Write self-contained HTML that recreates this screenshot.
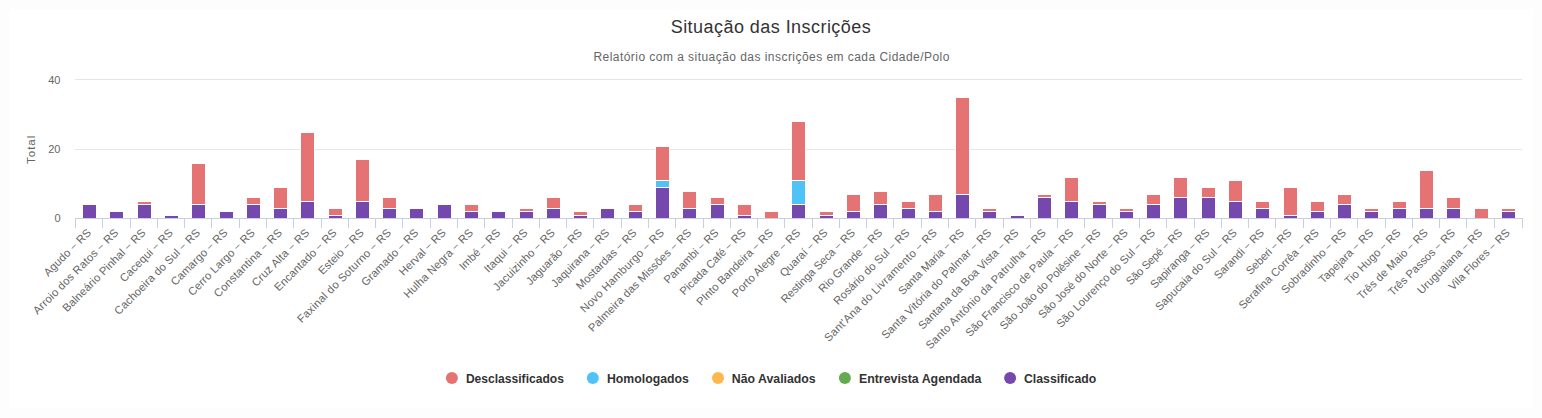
<!DOCTYPE html>
<html><head><meta charset="utf-8"><style>html,body{margin:0;padding:0;width:1542px;height:418px;overflow:hidden;background:#fff}</style></head>
<body>
<svg width="1542" height="418" viewBox="0 0 1542 418" style="position:absolute;left:0;top:0;font-family:'Liberation Sans', sans-serif">
<rect x="0" y="0" width="1542" height="418" fill="#fdfdfd"/>
<rect x="9" y="9" width="1524" height="399" fill="#ffffff"/>
<text x="670.7" y="32.8" textLength="200" lengthAdjust="spacing" font-size="18" fill="#333333">Situação das Inscrições</text>
<text x="593.4" y="61.3" textLength="356" lengthAdjust="spacing" font-size="12" fill="#666666">Relatório com a situação das inscrições em cada Cidade/Polo</text>
<line x1="75" y1="218.5" x2="1522" y2="218.5" stroke="#e6e6e6" stroke-width="1"/>
<text x="60.5" y="222.0" text-anchor="end" font-size="11" fill="#666666">0</text>
<line x1="75" y1="149.5" x2="1522" y2="149.5" stroke="#e6e6e6" stroke-width="1"/>
<text x="60.5" y="153.0" text-anchor="end" font-size="11" fill="#666666">20</text>
<line x1="75" y1="79.5" x2="1522" y2="79.5" stroke="#e6e6e6" stroke-width="1"/>
<text x="60.5" y="84.0" text-anchor="end" font-size="11" fill="#666666">40</text>
<text transform="translate(35,164) rotate(-90)" textLength="28.3" lengthAdjust="spacing" font-size="11.5" fill="#666666">Total</text>
<rect x="82" y="204" width="15" height="15" fill="#ffffff"/>
<rect x="83" y="205" width="13" height="13" fill="#7448ad"/>
<rect x="109" y="211" width="15" height="8" fill="#ffffff"/>
<rect x="110" y="212" width="13" height="6" fill="#7448ad"/>
<rect x="137" y="204" width="15" height="15" fill="#ffffff"/>
<rect x="138" y="205" width="13" height="13" fill="#7448ad"/>
<rect x="137" y="201" width="15" height="4" fill="#ffffff"/>
<rect x="138" y="202" width="13" height="2" fill="#e57373"/>
<rect x="164" y="215" width="15" height="4" fill="#ffffff"/>
<rect x="165" y="216" width="13" height="2" fill="#7448ad"/>
<rect x="191" y="204" width="15" height="15" fill="#ffffff"/>
<rect x="192" y="205" width="13" height="13" fill="#7448ad"/>
<rect x="191" y="163" width="15" height="42" fill="#ffffff"/>
<rect x="192" y="164" width="13" height="40" fill="#e57373"/>
<rect x="219" y="211" width="15" height="8" fill="#ffffff"/>
<rect x="220" y="212" width="13" height="6" fill="#7448ad"/>
<rect x="246" y="204" width="15" height="15" fill="#ffffff"/>
<rect x="247" y="205" width="13" height="13" fill="#7448ad"/>
<rect x="246" y="197" width="15" height="8" fill="#ffffff"/>
<rect x="247" y="198" width="13" height="6" fill="#e57373"/>
<rect x="273" y="208" width="15" height="11" fill="#ffffff"/>
<rect x="274" y="209" width="13" height="9" fill="#7448ad"/>
<rect x="273" y="187" width="15" height="22" fill="#ffffff"/>
<rect x="274" y="188" width="13" height="20" fill="#e57373"/>
<rect x="300" y="201" width="15" height="18" fill="#ffffff"/>
<rect x="301" y="202" width="13" height="16" fill="#7448ad"/>
<rect x="300" y="132" width="15" height="70" fill="#ffffff"/>
<rect x="301" y="133" width="13" height="68" fill="#e57373"/>
<rect x="328" y="215" width="15" height="4" fill="#ffffff"/>
<rect x="329" y="216" width="13" height="2" fill="#7448ad"/>
<rect x="328" y="208" width="15" height="8" fill="#ffffff"/>
<rect x="329" y="209" width="13" height="6" fill="#e57373"/>
<rect x="355" y="201" width="15" height="18" fill="#ffffff"/>
<rect x="356" y="202" width="13" height="16" fill="#7448ad"/>
<rect x="355" y="159" width="15" height="43" fill="#ffffff"/>
<rect x="356" y="160" width="13" height="41" fill="#e57373"/>
<rect x="382" y="208" width="15" height="11" fill="#ffffff"/>
<rect x="383" y="209" width="13" height="9" fill="#7448ad"/>
<rect x="382" y="197" width="15" height="12" fill="#ffffff"/>
<rect x="383" y="198" width="13" height="10" fill="#e57373"/>
<rect x="409" y="208" width="15" height="11" fill="#ffffff"/>
<rect x="410" y="209" width="13" height="9" fill="#7448ad"/>
<rect x="437" y="204" width="15" height="15" fill="#ffffff"/>
<rect x="438" y="205" width="13" height="13" fill="#7448ad"/>
<rect x="464" y="211" width="15" height="8" fill="#ffffff"/>
<rect x="465" y="212" width="13" height="6" fill="#7448ad"/>
<rect x="464" y="204" width="15" height="8" fill="#ffffff"/>
<rect x="465" y="205" width="13" height="6" fill="#e57373"/>
<rect x="491" y="211" width="15" height="8" fill="#ffffff"/>
<rect x="492" y="212" width="13" height="6" fill="#7448ad"/>
<rect x="519" y="211" width="15" height="8" fill="#ffffff"/>
<rect x="520" y="212" width="13" height="6" fill="#7448ad"/>
<rect x="519" y="208" width="15" height="4" fill="#ffffff"/>
<rect x="520" y="209" width="13" height="2" fill="#e57373"/>
<rect x="546" y="208" width="15" height="11" fill="#ffffff"/>
<rect x="547" y="209" width="13" height="9" fill="#7448ad"/>
<rect x="546" y="197" width="15" height="12" fill="#ffffff"/>
<rect x="547" y="198" width="13" height="10" fill="#e57373"/>
<rect x="573" y="215" width="15" height="4" fill="#ffffff"/>
<rect x="574" y="216" width="13" height="2" fill="#7448ad"/>
<rect x="573" y="211" width="15" height="5" fill="#ffffff"/>
<rect x="574" y="212" width="13" height="3" fill="#e57373"/>
<rect x="600" y="208" width="15" height="11" fill="#ffffff"/>
<rect x="601" y="209" width="13" height="9" fill="#7448ad"/>
<rect x="628" y="211" width="15" height="8" fill="#ffffff"/>
<rect x="629" y="212" width="13" height="6" fill="#7448ad"/>
<rect x="628" y="204" width="15" height="8" fill="#ffffff"/>
<rect x="629" y="205" width="13" height="6" fill="#e57373"/>
<rect x="655" y="187" width="15" height="32" fill="#ffffff"/>
<rect x="656" y="188" width="13" height="30" fill="#7448ad"/>
<rect x="655" y="180" width="15" height="8" fill="#ffffff"/>
<rect x="656" y="181" width="13" height="6" fill="#4fc3f7"/>
<rect x="655" y="146" width="15" height="35" fill="#ffffff"/>
<rect x="656" y="147" width="13" height="33" fill="#e57373"/>
<rect x="682" y="208" width="15" height="11" fill="#ffffff"/>
<rect x="683" y="209" width="13" height="9" fill="#7448ad"/>
<rect x="682" y="191" width="15" height="18" fill="#ffffff"/>
<rect x="683" y="192" width="13" height="16" fill="#e57373"/>
<rect x="710" y="204" width="15" height="15" fill="#ffffff"/>
<rect x="711" y="205" width="13" height="13" fill="#7448ad"/>
<rect x="710" y="197" width="15" height="8" fill="#ffffff"/>
<rect x="711" y="198" width="13" height="6" fill="#e57373"/>
<rect x="737" y="215" width="15" height="4" fill="#ffffff"/>
<rect x="738" y="216" width="13" height="2" fill="#7448ad"/>
<rect x="737" y="204" width="15" height="12" fill="#ffffff"/>
<rect x="738" y="205" width="13" height="10" fill="#e57373"/>
<rect x="764" y="211" width="15" height="8" fill="#ffffff"/>
<rect x="765" y="212" width="13" height="6" fill="#e57373"/>
<rect x="791" y="204" width="15" height="15" fill="#ffffff"/>
<rect x="792" y="205" width="13" height="13" fill="#7448ad"/>
<rect x="791" y="180" width="15" height="25" fill="#ffffff"/>
<rect x="792" y="181" width="13" height="23" fill="#4fc3f7"/>
<rect x="791" y="121" width="15" height="60" fill="#ffffff"/>
<rect x="792" y="122" width="13" height="58" fill="#e57373"/>
<rect x="819" y="215" width="15" height="4" fill="#ffffff"/>
<rect x="820" y="216" width="13" height="2" fill="#7448ad"/>
<rect x="819" y="211" width="15" height="5" fill="#ffffff"/>
<rect x="820" y="212" width="13" height="3" fill="#e57373"/>
<rect x="846" y="211" width="15" height="8" fill="#ffffff"/>
<rect x="847" y="212" width="13" height="6" fill="#7448ad"/>
<rect x="846" y="194" width="15" height="18" fill="#ffffff"/>
<rect x="847" y="195" width="13" height="16" fill="#e57373"/>
<rect x="873" y="204" width="15" height="15" fill="#ffffff"/>
<rect x="874" y="205" width="13" height="13" fill="#7448ad"/>
<rect x="873" y="191" width="15" height="14" fill="#ffffff"/>
<rect x="874" y="192" width="13" height="12" fill="#e57373"/>
<rect x="901" y="208" width="15" height="11" fill="#ffffff"/>
<rect x="902" y="209" width="13" height="9" fill="#7448ad"/>
<rect x="901" y="201" width="15" height="8" fill="#ffffff"/>
<rect x="902" y="202" width="13" height="6" fill="#e57373"/>
<rect x="928" y="211" width="15" height="8" fill="#ffffff"/>
<rect x="929" y="212" width="13" height="6" fill="#7448ad"/>
<rect x="928" y="194" width="15" height="18" fill="#ffffff"/>
<rect x="929" y="195" width="13" height="16" fill="#e57373"/>
<rect x="955" y="194" width="15" height="25" fill="#ffffff"/>
<rect x="956" y="195" width="13" height="23" fill="#7448ad"/>
<rect x="955" y="97" width="15" height="98" fill="#ffffff"/>
<rect x="956" y="98" width="13" height="96" fill="#e57373"/>
<rect x="982" y="211" width="15" height="8" fill="#ffffff"/>
<rect x="983" y="212" width="13" height="6" fill="#7448ad"/>
<rect x="982" y="208" width="15" height="4" fill="#ffffff"/>
<rect x="983" y="209" width="13" height="2" fill="#e57373"/>
<rect x="1010" y="215" width="15" height="4" fill="#ffffff"/>
<rect x="1011" y="216" width="13" height="2" fill="#7448ad"/>
<rect x="1037" y="197" width="15" height="22" fill="#ffffff"/>
<rect x="1038" y="198" width="13" height="20" fill="#7448ad"/>
<rect x="1037" y="194" width="15" height="4" fill="#ffffff"/>
<rect x="1038" y="195" width="13" height="2" fill="#e57373"/>
<rect x="1064" y="201" width="15" height="18" fill="#ffffff"/>
<rect x="1065" y="202" width="13" height="16" fill="#7448ad"/>
<rect x="1064" y="177" width="15" height="25" fill="#ffffff"/>
<rect x="1065" y="178" width="13" height="23" fill="#e57373"/>
<rect x="1092" y="204" width="15" height="15" fill="#ffffff"/>
<rect x="1093" y="205" width="13" height="13" fill="#7448ad"/>
<rect x="1092" y="201" width="15" height="4" fill="#ffffff"/>
<rect x="1093" y="202" width="13" height="2" fill="#e57373"/>
<rect x="1119" y="211" width="15" height="8" fill="#ffffff"/>
<rect x="1120" y="212" width="13" height="6" fill="#7448ad"/>
<rect x="1119" y="208" width="15" height="4" fill="#ffffff"/>
<rect x="1120" y="209" width="13" height="2" fill="#e57373"/>
<rect x="1146" y="204" width="15" height="15" fill="#ffffff"/>
<rect x="1147" y="205" width="13" height="13" fill="#7448ad"/>
<rect x="1146" y="194" width="15" height="11" fill="#ffffff"/>
<rect x="1147" y="195" width="13" height="9" fill="#e57373"/>
<rect x="1173" y="197" width="15" height="22" fill="#ffffff"/>
<rect x="1174" y="198" width="13" height="20" fill="#7448ad"/>
<rect x="1173" y="177" width="15" height="21" fill="#ffffff"/>
<rect x="1174" y="178" width="13" height="19" fill="#e57373"/>
<rect x="1201" y="197" width="15" height="22" fill="#ffffff"/>
<rect x="1202" y="198" width="13" height="20" fill="#7448ad"/>
<rect x="1201" y="187" width="15" height="11" fill="#ffffff"/>
<rect x="1202" y="188" width="13" height="9" fill="#e57373"/>
<rect x="1228" y="201" width="15" height="18" fill="#ffffff"/>
<rect x="1229" y="202" width="13" height="16" fill="#7448ad"/>
<rect x="1228" y="180" width="15" height="22" fill="#ffffff"/>
<rect x="1229" y="181" width="13" height="20" fill="#e57373"/>
<rect x="1255" y="208" width="15" height="11" fill="#ffffff"/>
<rect x="1256" y="209" width="13" height="9" fill="#7448ad"/>
<rect x="1255" y="201" width="15" height="8" fill="#ffffff"/>
<rect x="1256" y="202" width="13" height="6" fill="#e57373"/>
<rect x="1283" y="215" width="15" height="4" fill="#ffffff"/>
<rect x="1284" y="216" width="13" height="2" fill="#7448ad"/>
<rect x="1283" y="187" width="15" height="29" fill="#ffffff"/>
<rect x="1284" y="188" width="13" height="27" fill="#e57373"/>
<rect x="1310" y="211" width="15" height="8" fill="#ffffff"/>
<rect x="1311" y="212" width="13" height="6" fill="#7448ad"/>
<rect x="1310" y="201" width="15" height="11" fill="#ffffff"/>
<rect x="1311" y="202" width="13" height="9" fill="#e57373"/>
<rect x="1337" y="204" width="15" height="15" fill="#ffffff"/>
<rect x="1338" y="205" width="13" height="13" fill="#7448ad"/>
<rect x="1337" y="194" width="15" height="11" fill="#ffffff"/>
<rect x="1338" y="195" width="13" height="9" fill="#e57373"/>
<rect x="1364" y="211" width="15" height="8" fill="#ffffff"/>
<rect x="1365" y="212" width="13" height="6" fill="#7448ad"/>
<rect x="1364" y="208" width="15" height="4" fill="#ffffff"/>
<rect x="1365" y="209" width="13" height="2" fill="#e57373"/>
<rect x="1392" y="208" width="15" height="11" fill="#ffffff"/>
<rect x="1393" y="209" width="13" height="9" fill="#7448ad"/>
<rect x="1392" y="201" width="15" height="8" fill="#ffffff"/>
<rect x="1393" y="202" width="13" height="6" fill="#e57373"/>
<rect x="1419" y="208" width="15" height="11" fill="#ffffff"/>
<rect x="1420" y="209" width="13" height="9" fill="#7448ad"/>
<rect x="1419" y="170" width="15" height="39" fill="#ffffff"/>
<rect x="1420" y="171" width="13" height="37" fill="#e57373"/>
<rect x="1446" y="208" width="15" height="11" fill="#ffffff"/>
<rect x="1447" y="209" width="13" height="9" fill="#7448ad"/>
<rect x="1446" y="197" width="15" height="12" fill="#ffffff"/>
<rect x="1447" y="198" width="13" height="10" fill="#e57373"/>
<rect x="1474" y="208" width="15" height="11" fill="#ffffff"/>
<rect x="1475" y="209" width="13" height="9" fill="#e57373"/>
<rect x="1501" y="211" width="15" height="8" fill="#ffffff"/>
<rect x="1502" y="212" width="13" height="6" fill="#7448ad"/>
<rect x="1501" y="208" width="15" height="4" fill="#ffffff"/>
<rect x="1502" y="209" width="13" height="2" fill="#e57373"/>
<line x1="75" y1="218.5" x2="1523" y2="218.5" stroke="#c8cfdf" stroke-width="1"/>
<line x1="75.5" y1="218" x2="75.5" y2="228" stroke="#c8cfdf" stroke-width="1"/>
<line x1="102.5" y1="218" x2="102.5" y2="228" stroke="#c8cfdf" stroke-width="1"/>
<line x1="130.5" y1="218" x2="130.5" y2="228" stroke="#c8cfdf" stroke-width="1"/>
<line x1="157.5" y1="218" x2="157.5" y2="228" stroke="#c8cfdf" stroke-width="1"/>
<line x1="184.5" y1="218" x2="184.5" y2="228" stroke="#c8cfdf" stroke-width="1"/>
<line x1="211.5" y1="218" x2="211.5" y2="228" stroke="#c8cfdf" stroke-width="1"/>
<line x1="239.5" y1="218" x2="239.5" y2="228" stroke="#c8cfdf" stroke-width="1"/>
<line x1="266.5" y1="218" x2="266.5" y2="228" stroke="#c8cfdf" stroke-width="1"/>
<line x1="293.5" y1="218" x2="293.5" y2="228" stroke="#c8cfdf" stroke-width="1"/>
<line x1="321.5" y1="218" x2="321.5" y2="228" stroke="#c8cfdf" stroke-width="1"/>
<line x1="348.5" y1="218" x2="348.5" y2="228" stroke="#c8cfdf" stroke-width="1"/>
<line x1="375.5" y1="218" x2="375.5" y2="228" stroke="#c8cfdf" stroke-width="1"/>
<line x1="402.5" y1="218" x2="402.5" y2="228" stroke="#c8cfdf" stroke-width="1"/>
<line x1="430.5" y1="218" x2="430.5" y2="228" stroke="#c8cfdf" stroke-width="1"/>
<line x1="457.5" y1="218" x2="457.5" y2="228" stroke="#c8cfdf" stroke-width="1"/>
<line x1="484.5" y1="218" x2="484.5" y2="228" stroke="#c8cfdf" stroke-width="1"/>
<line x1="512.5" y1="218" x2="512.5" y2="228" stroke="#c8cfdf" stroke-width="1"/>
<line x1="539.5" y1="218" x2="539.5" y2="228" stroke="#c8cfdf" stroke-width="1"/>
<line x1="566.5" y1="218" x2="566.5" y2="228" stroke="#c8cfdf" stroke-width="1"/>
<line x1="593.5" y1="218" x2="593.5" y2="228" stroke="#c8cfdf" stroke-width="1"/>
<line x1="621.5" y1="218" x2="621.5" y2="228" stroke="#c8cfdf" stroke-width="1"/>
<line x1="648.5" y1="218" x2="648.5" y2="228" stroke="#c8cfdf" stroke-width="1"/>
<line x1="675.5" y1="218" x2="675.5" y2="228" stroke="#c8cfdf" stroke-width="1"/>
<line x1="703.5" y1="218" x2="703.5" y2="228" stroke="#c8cfdf" stroke-width="1"/>
<line x1="730.5" y1="218" x2="730.5" y2="228" stroke="#c8cfdf" stroke-width="1"/>
<line x1="757.5" y1="218" x2="757.5" y2="228" stroke="#c8cfdf" stroke-width="1"/>
<line x1="784.5" y1="218" x2="784.5" y2="228" stroke="#c8cfdf" stroke-width="1"/>
<line x1="812.5" y1="218" x2="812.5" y2="228" stroke="#c8cfdf" stroke-width="1"/>
<line x1="839.5" y1="218" x2="839.5" y2="228" stroke="#c8cfdf" stroke-width="1"/>
<line x1="866.5" y1="218" x2="866.5" y2="228" stroke="#c8cfdf" stroke-width="1"/>
<line x1="893.5" y1="218" x2="893.5" y2="228" stroke="#c8cfdf" stroke-width="1"/>
<line x1="921.5" y1="218" x2="921.5" y2="228" stroke="#c8cfdf" stroke-width="1"/>
<line x1="948.5" y1="218" x2="948.5" y2="228" stroke="#c8cfdf" stroke-width="1"/>
<line x1="975.5" y1="218" x2="975.5" y2="228" stroke="#c8cfdf" stroke-width="1"/>
<line x1="1003.5" y1="218" x2="1003.5" y2="228" stroke="#c8cfdf" stroke-width="1"/>
<line x1="1030.5" y1="218" x2="1030.5" y2="228" stroke="#c8cfdf" stroke-width="1"/>
<line x1="1057.5" y1="218" x2="1057.5" y2="228" stroke="#c8cfdf" stroke-width="1"/>
<line x1="1084.5" y1="218" x2="1084.5" y2="228" stroke="#c8cfdf" stroke-width="1"/>
<line x1="1112.5" y1="218" x2="1112.5" y2="228" stroke="#c8cfdf" stroke-width="1"/>
<line x1="1139.5" y1="218" x2="1139.5" y2="228" stroke="#c8cfdf" stroke-width="1"/>
<line x1="1166.5" y1="218" x2="1166.5" y2="228" stroke="#c8cfdf" stroke-width="1"/>
<line x1="1194.5" y1="218" x2="1194.5" y2="228" stroke="#c8cfdf" stroke-width="1"/>
<line x1="1221.5" y1="218" x2="1221.5" y2="228" stroke="#c8cfdf" stroke-width="1"/>
<line x1="1248.5" y1="218" x2="1248.5" y2="228" stroke="#c8cfdf" stroke-width="1"/>
<line x1="1275.5" y1="218" x2="1275.5" y2="228" stroke="#c8cfdf" stroke-width="1"/>
<line x1="1303.5" y1="218" x2="1303.5" y2="228" stroke="#c8cfdf" stroke-width="1"/>
<line x1="1330.5" y1="218" x2="1330.5" y2="228" stroke="#c8cfdf" stroke-width="1"/>
<line x1="1357.5" y1="218" x2="1357.5" y2="228" stroke="#c8cfdf" stroke-width="1"/>
<line x1="1385.5" y1="218" x2="1385.5" y2="228" stroke="#c8cfdf" stroke-width="1"/>
<line x1="1412.5" y1="218" x2="1412.5" y2="228" stroke="#c8cfdf" stroke-width="1"/>
<line x1="1439.5" y1="218" x2="1439.5" y2="228" stroke="#c8cfdf" stroke-width="1"/>
<line x1="1466.5" y1="218" x2="1466.5" y2="228" stroke="#c8cfdf" stroke-width="1"/>
<line x1="1494.5" y1="218" x2="1494.5" y2="228" stroke="#c8cfdf" stroke-width="1"/>
<line x1="1522.5" y1="218" x2="1522.5" y2="228" stroke="#c8cfdf" stroke-width="1"/>
<text transform="translate(91.76,233.4) rotate(-45)" text-anchor="end" font-size="11.2" textLength="61.6" lengthAdjust="spacing" fill="#666666">Agudo  <tspan font-size="9.5" dx="0.3" dy="-1">–</tspan><tspan dx="0.6" dy="1"> RS</tspan></text>
<text transform="translate(119.04,233.4) rotate(-45)" text-anchor="end" font-size="11.2" textLength="115.4" lengthAdjust="spacing" fill="#666666">Arroio dos Ratos  <tspan font-size="9.5" dx="0.3" dy="-1">–</tspan><tspan dx="0.6" dy="1"> RS</tspan></text>
<text transform="translate(146.32,233.4) rotate(-45)" text-anchor="end" font-size="11.2" textLength="112.0" lengthAdjust="spacing" fill="#666666">Balneário Pinhal  <tspan font-size="9.5" dx="0.3" dy="-1">–</tspan><tspan dx="0.6" dy="1"> RS</tspan></text>
<text transform="translate(173.61,233.4) rotate(-45)" text-anchor="end" font-size="11.2" textLength="69.7" lengthAdjust="spacing" fill="#666666">Cacequi  <tspan font-size="9.5" dx="0.3" dy="-1">–</tspan><tspan dx="0.6" dy="1"> RS</tspan></text>
<text transform="translate(200.89,233.4) rotate(-45)" text-anchor="end" font-size="11.2" textLength="116.0" lengthAdjust="spacing" fill="#666666">Cachoeira do Sul  <tspan font-size="9.5" dx="0.3" dy="-1">–</tspan><tspan dx="0.6" dy="1"> RS</tspan></text>
<text transform="translate(228.17,233.4) rotate(-45)" text-anchor="end" font-size="11.2" textLength="74.9" lengthAdjust="spacing" fill="#666666">Camargo  <tspan font-size="9.5" dx="0.3" dy="-1">–</tspan><tspan dx="0.6" dy="1"> RS</tspan></text>
<text transform="translate(255.45,233.4) rotate(-45)" text-anchor="end" font-size="11.2" textLength="89.2" lengthAdjust="spacing" fill="#666666">Cerro Largo  <tspan font-size="9.5" dx="0.3" dy="-1">–</tspan><tspan dx="0.6" dy="1"> RS</tspan></text>
<text transform="translate(282.74,233.4) rotate(-45)" text-anchor="end" font-size="11.2" textLength="91.2" lengthAdjust="spacing" fill="#666666">Constantina  <tspan font-size="9.5" dx="0.3" dy="-1">–</tspan><tspan dx="0.6" dy="1"> RS</tspan></text>
<text transform="translate(310.02,233.4) rotate(-45)" text-anchor="end" font-size="11.2" textLength="76.2" lengthAdjust="spacing" fill="#666666">Cruz Alta  <tspan font-size="9.5" dx="0.3" dy="-1">–</tspan><tspan dx="0.6" dy="1"> RS</tspan></text>
<text transform="translate(337.30,233.4) rotate(-45)" text-anchor="end" font-size="11.2" textLength="82.7" lengthAdjust="spacing" fill="#666666">Encantado  <tspan font-size="9.5" dx="0.3" dy="-1">–</tspan><tspan dx="0.6" dy="1"> RS</tspan></text>
<text transform="translate(364.58,233.4) rotate(-45)" text-anchor="end" font-size="11.2" textLength="59.3" lengthAdjust="spacing" fill="#666666">Esteio  <tspan font-size="9.5" dx="0.3" dy="-1">–</tspan><tspan dx="0.6" dy="1"> RS</tspan></text>
<text transform="translate(391.86,233.4) rotate(-45)" text-anchor="end" font-size="11.2" textLength="127.5" lengthAdjust="spacing" fill="#666666">Faxinal do Soturno  <tspan font-size="9.5" dx="0.3" dy="-1">–</tspan><tspan dx="0.6" dy="1"> RS</tspan></text>
<text transform="translate(419.14,233.4) rotate(-45)" text-anchor="end" font-size="11.2" textLength="75.5" lengthAdjust="spacing" fill="#666666">Gramado  <tspan font-size="9.5" dx="0.3" dy="-1">–</tspan><tspan dx="0.6" dy="1"> RS</tspan></text>
<text transform="translate(446.43,233.4) rotate(-45)" text-anchor="end" font-size="11.2" textLength="60.6" lengthAdjust="spacing" fill="#666666">Herval  <tspan font-size="9.5" dx="0.3" dy="-1">–</tspan><tspan dx="0.6" dy="1"> RS</tspan></text>
<text transform="translate(473.71,233.4) rotate(-45)" text-anchor="end" font-size="11.2" textLength="92.5" lengthAdjust="spacing" fill="#666666">Hulha Negra  <tspan font-size="9.5" dx="0.3" dy="-1">–</tspan><tspan dx="0.6" dy="1"> RS</tspan></text>
<text transform="translate(500.99,233.4) rotate(-45)" text-anchor="end" font-size="11.2" textLength="52.8" lengthAdjust="spacing" fill="#666666">Imbé  <tspan font-size="9.5" dx="0.3" dy="-1">–</tspan><tspan dx="0.6" dy="1"> RS</tspan></text>
<text transform="translate(528.27,233.4) rotate(-45)" text-anchor="end" font-size="11.2" textLength="56.4" lengthAdjust="spacing" fill="#666666">Itaqui  <tspan font-size="9.5" dx="0.3" dy="-1">–</tspan><tspan dx="0.6" dy="1"> RS</tspan></text>
<text transform="translate(555.56,233.4) rotate(-45)" text-anchor="end" font-size="11.2" textLength="82.1" lengthAdjust="spacing" fill="#666666">Jacuizinho  <tspan font-size="9.5" dx="0.3" dy="-1">–</tspan><tspan dx="0.6" dy="1"> RS</tspan></text>
<text transform="translate(582.84,233.4) rotate(-45)" text-anchor="end" font-size="11.2" textLength="74.1" lengthAdjust="spacing" fill="#666666">Jaguarão  <tspan font-size="9.5" dx="0.3" dy="-1">–</tspan><tspan dx="0.6" dy="1"> RS</tspan></text>
<text transform="translate(610.12,233.4) rotate(-45)" text-anchor="end" font-size="11.2" textLength="77.2" lengthAdjust="spacing" fill="#666666">Jaquirana  <tspan font-size="9.5" dx="0.3" dy="-1">–</tspan><tspan dx="0.6" dy="1"> RS</tspan></text>
<text transform="translate(637.40,233.4) rotate(-45)" text-anchor="end" font-size="11.2" textLength="80.4" lengthAdjust="spacing" fill="#666666">Mostardas  <tspan font-size="9.5" dx="0.3" dy="-1">–</tspan><tspan dx="0.6" dy="1"> RS</tspan></text>
<text transform="translate(664.68,233.4) rotate(-45)" text-anchor="end" font-size="11.2" textLength="113.0" lengthAdjust="spacing" fill="#666666">Novo Hamburgo  <tspan font-size="9.5" dx="0.3" dy="-1">–</tspan><tspan dx="0.6" dy="1"> RS</tspan></text>
<text transform="translate(691.97,233.4) rotate(-45)" text-anchor="end" font-size="11.2" textLength="140.2" lengthAdjust="spacing" fill="#666666">Palmeira das Missões  <tspan font-size="9.5" dx="0.3" dy="-1">–</tspan><tspan dx="0.6" dy="1"> RS</tspan></text>
<text transform="translate(719.25,233.4) rotate(-45)" text-anchor="end" font-size="11.2" textLength="72.0" lengthAdjust="spacing" fill="#666666">Panambi  <tspan font-size="9.5" dx="0.3" dy="-1">–</tspan><tspan dx="0.6" dy="1"> RS</tspan></text>
<text transform="translate(746.53,233.4) rotate(-45)" text-anchor="end" font-size="11.2" textLength="88.0" lengthAdjust="spacing" fill="#666666">Picada Café  <tspan font-size="9.5" dx="0.3" dy="-1">–</tspan><tspan dx="0.6" dy="1"> RS</tspan></text>
<text transform="translate(773.81,233.4) rotate(-45)" text-anchor="end" font-size="11.2" textLength="103.0" lengthAdjust="spacing" fill="#666666">PInto Bandeira  <tspan font-size="9.5" dx="0.3" dy="-1">–</tspan><tspan dx="0.6" dy="1"> RS</tspan></text>
<text transform="translate(801.09,233.4) rotate(-45)" text-anchor="end" font-size="11.2" textLength="91.2" lengthAdjust="spacing" fill="#666666">Porto Alegre  <tspan font-size="9.5" dx="0.3" dy="-1">–</tspan><tspan dx="0.6" dy="1"> RS</tspan></text>
<text transform="translate(828.38,233.4) rotate(-45)" text-anchor="end" font-size="11.2" textLength="62.5" lengthAdjust="spacing" fill="#666666">Quaraí  <tspan font-size="9.5" dx="0.3" dy="-1">–</tspan><tspan dx="0.6" dy="1"> RS</tspan></text>
<text transform="translate(855.66,233.4) rotate(-45)" text-anchor="end" font-size="11.2" textLength="99.4" lengthAdjust="spacing" fill="#666666">Restinga Seca  <tspan font-size="9.5" dx="0.3" dy="-1">–</tspan><tspan dx="0.6" dy="1"> RS</tspan></text>
<text transform="translate(882.94,233.4) rotate(-45)" text-anchor="end" font-size="11.2" textLength="84.6" lengthAdjust="spacing" fill="#666666">Rio Grande  <tspan font-size="9.5" dx="0.3" dy="-1">–</tspan><tspan dx="0.6" dy="1"> RS</tspan></text>
<text transform="translate(910.22,233.4) rotate(-45)" text-anchor="end" font-size="11.2" textLength="102.0" lengthAdjust="spacing" fill="#666666">Rosário do Sul  <tspan font-size="9.5" dx="0.3" dy="-1">–</tspan><tspan dx="0.6" dy="1"> RS</tspan></text>
<text transform="translate(937.50,233.4) rotate(-45)" text-anchor="end" font-size="11.2" textLength="153.8" lengthAdjust="spacing" fill="#666666">Sant&#x27;Ana do Livramento  <tspan font-size="9.5" dx="0.3" dy="-1">–</tspan><tspan dx="0.6" dy="1"> RS</tspan></text>
<text transform="translate(964.78,233.4) rotate(-45)" text-anchor="end" font-size="11.2" textLength="87.9" lengthAdjust="spacing" fill="#666666">Santa Maria  <tspan font-size="9.5" dx="0.3" dy="-1">–</tspan><tspan dx="0.6" dy="1"> RS</tspan></text>
<text transform="translate(992.07,233.4) rotate(-45)" text-anchor="end" font-size="11.2" textLength="150.1" lengthAdjust="spacing" fill="#666666">Santa Vitória do Palmar  <tspan font-size="9.5" dx="0.3" dy="-1">–</tspan><tspan dx="0.6" dy="1"> RS</tspan></text>
<text transform="translate(1019.35,233.4) rotate(-45)" text-anchor="end" font-size="11.2" textLength="136.7" lengthAdjust="spacing" fill="#666666">Santana da Boa Vista  <tspan font-size="9.5" dx="0.3" dy="-1">–</tspan><tspan dx="0.6" dy="1"> RS</tspan></text>
<text transform="translate(1046.63,233.4) rotate(-45)" text-anchor="end" font-size="11.2" textLength="164.7" lengthAdjust="spacing" fill="#666666">Santo Antônio da Patrulha  <tspan font-size="9.5" dx="0.3" dy="-1">–</tspan><tspan dx="0.6" dy="1"> RS</tspan></text>
<text transform="translate(1073.91,233.4) rotate(-45)" text-anchor="end" font-size="11.2" textLength="147.0" lengthAdjust="spacing" fill="#666666">São Francisco de Paula  <tspan font-size="9.5" dx="0.3" dy="-1">–</tspan><tspan dx="0.6" dy="1"> RS</tspan></text>
<text transform="translate(1101.19,233.4) rotate(-45)" text-anchor="end" font-size="11.2" textLength="137.1" lengthAdjust="spacing" fill="#666666">São João do Polêsine  <tspan font-size="9.5" dx="0.3" dy="-1">–</tspan><tspan dx="0.6" dy="1"> RS</tspan></text>
<text transform="translate(1128.48,233.4) rotate(-45)" text-anchor="end" font-size="11.2" textLength="121.2" lengthAdjust="spacing" fill="#666666">São José do Norte  <tspan font-size="9.5" dx="0.3" dy="-1">–</tspan><tspan dx="0.6" dy="1"> RS</tspan></text>
<text transform="translate(1155.76,233.4) rotate(-45)" text-anchor="end" font-size="11.2" textLength="134.1" lengthAdjust="spacing" fill="#666666">São Lourenço do Sul  <tspan font-size="9.5" dx="0.3" dy="-1">–</tspan><tspan dx="0.6" dy="1"> RS</tspan></text>
<text transform="translate(1183.04,233.4) rotate(-45)" text-anchor="end" font-size="11.2" textLength="74.2" lengthAdjust="spacing" fill="#666666">São Sepé  <tspan font-size="9.5" dx="0.3" dy="-1">–</tspan><tspan dx="0.6" dy="1"> RS</tspan></text>
<text transform="translate(1210.32,233.4) rotate(-45)" text-anchor="end" font-size="11.2" textLength="78.6" lengthAdjust="spacing" fill="#666666">Sapiranga  <tspan font-size="9.5" dx="0.3" dy="-1">–</tspan><tspan dx="0.6" dy="1"> RS</tspan></text>
<text transform="translate(1237.60,233.4) rotate(-45)" text-anchor="end" font-size="11.2" textLength="110.0" lengthAdjust="spacing" fill="#666666">Sapucaia do Sul  <tspan font-size="9.5" dx="0.3" dy="-1">–</tspan><tspan dx="0.6" dy="1"> RS</tspan></text>
<text transform="translate(1264.89,233.4) rotate(-45)" text-anchor="end" font-size="11.2" textLength="65.6" lengthAdjust="spacing" fill="#666666">Sarandi  <tspan font-size="9.5" dx="0.3" dy="-1">–</tspan><tspan dx="0.6" dy="1"> RS</tspan></text>
<text transform="translate(1292.17,233.4) rotate(-45)" text-anchor="end" font-size="11.2" textLength="59.1" lengthAdjust="spacing" fill="#666666">Seberi  <tspan font-size="9.5" dx="0.3" dy="-1">–</tspan><tspan dx="0.6" dy="1"> RS</tspan></text>
<text transform="translate(1319.45,233.4) rotate(-45)" text-anchor="end" font-size="11.2" textLength="107.9" lengthAdjust="spacing" fill="#666666">Serafina Corrêa  <tspan font-size="9.5" dx="0.3" dy="-1">–</tspan><tspan dx="0.6" dy="1"> RS</tspan></text>
<text transform="translate(1346.73,233.4) rotate(-45)" text-anchor="end" font-size="11.2" textLength="86.1" lengthAdjust="spacing" fill="#666666">Sobradinho  <tspan font-size="9.5" dx="0.3" dy="-1">–</tspan><tspan dx="0.6" dy="1"> RS</tspan></text>
<text transform="translate(1374.01,233.4) rotate(-45)" text-anchor="end" font-size="11.2" textLength="71.7" lengthAdjust="spacing" fill="#666666">Tapejara  <tspan font-size="9.5" dx="0.3" dy="-1">–</tspan><tspan dx="0.6" dy="1"> RS</tspan></text>
<text transform="translate(1401.30,233.4) rotate(-45)" text-anchor="end" font-size="11.2" textLength="73.8" lengthAdjust="spacing" fill="#666666">Tio Hugo  <tspan font-size="9.5" dx="0.3" dy="-1">–</tspan><tspan dx="0.6" dy="1"> RS</tspan></text>
<text transform="translate(1428.58,233.4) rotate(-45)" text-anchor="end" font-size="11.2" textLength="94.6" lengthAdjust="spacing" fill="#666666">Três de Maio  <tspan font-size="9.5" dx="0.3" dy="-1">–</tspan><tspan dx="0.6" dy="1"> RS</tspan></text>
<text transform="translate(1455.86,233.4) rotate(-45)" text-anchor="end" font-size="11.2" textLength="89.3" lengthAdjust="spacing" fill="#666666">Três Passos  <tspan font-size="9.5" dx="0.3" dy="-1">–</tspan><tspan dx="0.6" dy="1"> RS</tspan></text>
<text transform="translate(1483.14,233.4) rotate(-45)" text-anchor="end" font-size="11.2" textLength="86.8" lengthAdjust="spacing" fill="#666666">Uruguaiana  <tspan font-size="9.5" dx="0.3" dy="-1">–</tspan><tspan dx="0.6" dy="1"> RS</tspan></text>
<text transform="translate(1510.42,233.4) rotate(-45)" text-anchor="end" font-size="11.2" textLength="81.3" lengthAdjust="spacing" fill="#666666">Vila Flores  <tspan font-size="9.5" dx="0.3" dy="-1">–</tspan><tspan dx="0.6" dy="1"> RS</tspan></text>
<circle cx="451.9" cy="378" r="6" fill="#e57373"/>
<text x="465.9" y="383" textLength="98" lengthAdjust="spacingAndGlyphs" font-size="12" font-weight="bold" fill="#333333">Desclassificados</text>
<circle cx="592.8" cy="378" r="6" fill="#4fc3f7"/>
<text x="607" y="383" textLength="81.8" lengthAdjust="spacingAndGlyphs" font-size="12" font-weight="bold" fill="#333333">Homologados</text>
<circle cx="718" cy="378" r="6" fill="#ffb74d"/>
<text x="731.8" y="383" textLength="83.9" lengthAdjust="spacingAndGlyphs" font-size="12" font-weight="bold" fill="#333333">Não Avaliados</text>
<circle cx="844.9" cy="378" r="6" fill="#66aa4f"/>
<text x="858.9" y="383" textLength="122.6" lengthAdjust="spacingAndGlyphs" font-size="12" font-weight="bold" fill="#333333">Entrevista Agendada</text>
<circle cx="1010.1" cy="378" r="6" fill="#7448ad"/>
<text x="1024" y="383" textLength="72.2" lengthAdjust="spacingAndGlyphs" font-size="12" font-weight="bold" fill="#333333">Classificado</text>
</svg>
</body></html>
